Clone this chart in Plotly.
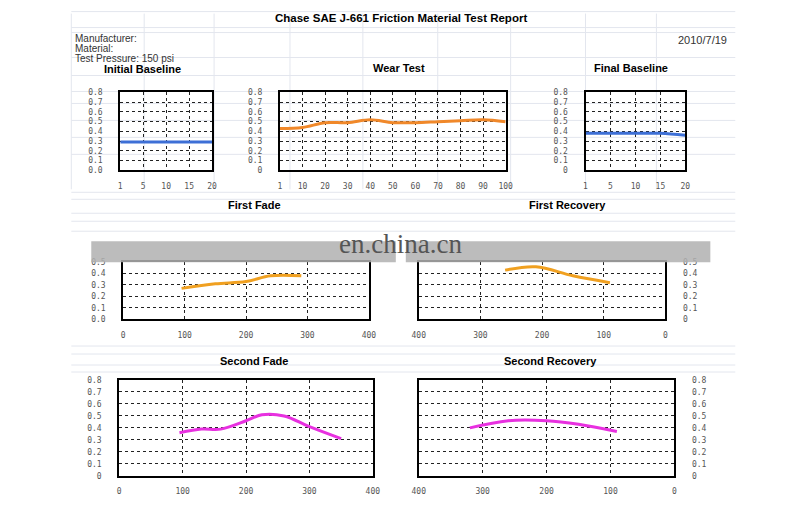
import plotly.graph_objects as go

# data
base_x = ["1", "5", "10", "15", "20"]
init_base_y = [0.29, 0.29, 0.29, 0.29, 0.29]
final_base_y = [0.38, 0.38, 0.38, 0.38, 0.36]

wear_x = ["1", "10", "20", "30", "40", "50", "60", "70", "80", "90", "100"]
wear_y = [0.43, 0.44, 0.49, 0.49, 0.52, 0.49, 0.49, 0.50, 0.51, 0.52, 0.50]

fade1_x = [95, 150, 200, 240, 290]
fade1_y = [0.27, 0.31, 0.33, 0.38, 0.38]
rec1_x = [260, 210, 150, 90]
rec1_y = [0.43, 0.46, 0.38, 0.32]

fade2_x = [95, 130, 160, 200, 225, 260, 300, 350]
fade2_y = [0.36, 0.39, 0.39, 0.46, 0.51, 0.50, 0.41, 0.31]
rec2_x = [320, 260, 200, 150, 90]
rec2_y = [0.40, 0.46, 0.46, 0.43, 0.37]

y8_vals = [0, 0.1, 0.2, 0.3, 0.4, 0.5, 0.6, 0.7, 0.8]
y8_text_a = ["0.0", "0.1", "0.2", "0.3", "0.4", "0.5", "0.6", "0.7", "0.8"]
y8_text_b = ["0"] + y8_text_a[1:]
y5_vals = [0, 0.1, 0.2, 0.3, 0.4, 0.5]

W, H = 800, 511
OFF = 12  # page offset
SCALE = 0.984
BLUE, ORANGE, GOLD, MAGENTA = "#3d6fd6", "#f0882a", "#f0a020", "#e830e0"
TICKF = dict(family="DejaVu Sans Mono", size=8, color="#555")


def px(x):
    return ((x - 1.8) / SCALE - OFF) / W


def py(y):
    return 1 - ((y - 0.6) / SCALE - OFF) / H


fig = go.Figure()
panels = [
    (base_x, init_base_y, BLUE, (119, 211), (93, 171), None, y8_vals, y8_text_a, [0, 0.8], "left", "category", None),
    (wear_x, wear_y, ORANGE, (279, 505), (93, 171), None, y8_vals, y8_text_b, [0, 0.8], "left", "category", None),
    (base_x, final_base_y, BLUE, (585, 685), (93, 171), None, y8_vals, y8_text_b, [0, 0.8], "left", "category", None),
    (fade1_x, fade1_y, GOLD, (122, 368), (263, 320), [0, 400], y5_vals, y8_text_a[:6], [0, 0.5], "left", "linear", [0, 100, 200, 300, 400]),
    (rec1_x, rec1_y, GOLD, (418, 665), (263, 320), [400, 0], y5_vals, y8_text_b[:6], [0, 0.5], "right", "linear", [0, 100, 200, 300, 400]),
    (fade2_x, fade2_y, MAGENTA, (118, 372), (381, 477), [0, 400], y8_vals, y8_text_b, [0, 0.8], "left", "linear", [0, 100, 200, 300, 400]),
    (rec2_x, rec2_y, MAGENTA, (418, 674), (381, 477), [400, 0], y8_vals, y8_text_b, [0, 0.8], "right", "linear", [0, 100, 200, 300, 400]),
]

for i, (xs, ys, col, xd, yd, xr, yv, yt, yr, side, xtype, xticks) in enumerate(panels, start=1):
    sfx = "" if i == 1 else str(i)
    fig.add_trace(go.Scatter(
        x=xs, y=ys, mode="lines", line=dict(color=col, width=3, shape="spline"),
        xaxis="x" + sfx, yaxis="y" + sfx, showlegend=False,
    ))
    xa = dict(
        domain=[px(xd[0]), px(xd[1])], anchor="y" + sfx, type=xtype, showline=True, linecolor="black",
        linewidth=2, mirror=True, showgrid=True, gridcolor="#222", griddash="dot", gridwidth=1,
        tickfont=TICKF, ticks="", zeroline=False, fixedrange=True, ticklabelstandoff=7,
    )
    if xr is not None:
        xa.update(range=xr, tickvals=xticks)
    ya = dict(
        domain=[py(yd[1]), py(yd[0])], anchor="x" + sfx, range=yr, tickvals=yv, ticktext=yt, side=side,
        showline=True, linecolor="black", linewidth=2, mirror=True, showgrid=True,
        gridcolor="#222", griddash="dot", gridwidth=1, tickfont=TICKF, ticks="",
        zeroline=False, fixedrange=True, ticklabelstandoff=14,
    )
    fig.layout["xaxis" + sfx] = xa
    fig.layout["yaxis" + sfx] = ya

# faint spreadsheet rows/columns behind the charts
for yy in [12, 28, 33, 58, 76, 92, 104, 121, 138, 155, 193, 200, 214, 222, 232, 347, 355, 366, 373]:
    fig.add_shape(type="line", xref="paper", yref="paper", x0=px(70), x1=px(735),
                  y0=py(yy), y1=py(yy), line=dict(color="#e3e6ee", width=1), layer="below")
for xx in [70, 143, 213, 289, 362, 437, 510, 585, 656]:
    fig.add_shape(type="line", xref="paper", yref="paper", x0=px(xx), x1=px(xx),
                  y0=py(190), y1=py(14), line=dict(color="#e3e6ee", width=1), layer="below")

# grey bands with watermark covering the top of the first fade/recovery charts
for x0, x1 in [(90, 395), (405, 710)]:
    fig.add_shape(type="rect", xref="paper", yref="paper", x0=px(x0), x1=px(x1),
                  y0=py(263), y1=py(242), fillcolor="#b0b0b0", opacity=0.85, line_width=0)

texts = [
    (400, 18, "<b>Chase SAE J-661 Friction Material Test Report</b>", 11.5, "center", "black", "Liberation Sans"),
    (72, 38.5, "Manufacturer:", 10, "left", "#333", "Liberation Sans"),
    (72, 48.5, "Material:", 10, "left", "#333", "Liberation Sans"),
    (72, 58.5, "Test Pressure: 150 psi", 10, "left", "#333", "Liberation Sans"),
    (729, 40, "2010/7/19", 11, "right", "#333", "Liberation Sans"),
    (141, 69.5, "<b>Initial Baseline</b>", 11, "center", "black", "Liberation Sans"),
    (398, 68, "<b>Wear Test</b>", 11, "center", "black", "Liberation Sans"),
    (631, 68, "<b>Final Baseline</b>", 11, "center", "black", "Liberation Sans"),
    (253, 206, "<b>First Fade</b>", 11, "center", "black", "Liberation Sans"),
    (567, 206, "<b>First Recovery</b>", 11, "center", "black", "Liberation Sans"),
    (253, 362, "<b>Second Fade</b>", 11, "center", "black", "Liberation Sans"),
    (550, 362, "<b>Second Recovery</b>", 11, "center", "black", "Liberation Sans"),
    (400, 245, "en.china.cn", 27, "center", "#555", "Liberation Sans Narrow"),
]
for x, y, t, s, al, c, f in texts:
    fig.add_annotation(x=px(x), y=py(y), xref="paper", yref="paper", text=t, showarrow=False,
                       xanchor=al, yanchor="middle", font=dict(size=s, color=c, family=f))

fig.update_layout(
    width=W, height=H, margin=dict(l=0, r=0, t=0, b=0),
    paper_bgcolor="white", plot_bgcolor="white",
)
fig.write_html("out.html")
